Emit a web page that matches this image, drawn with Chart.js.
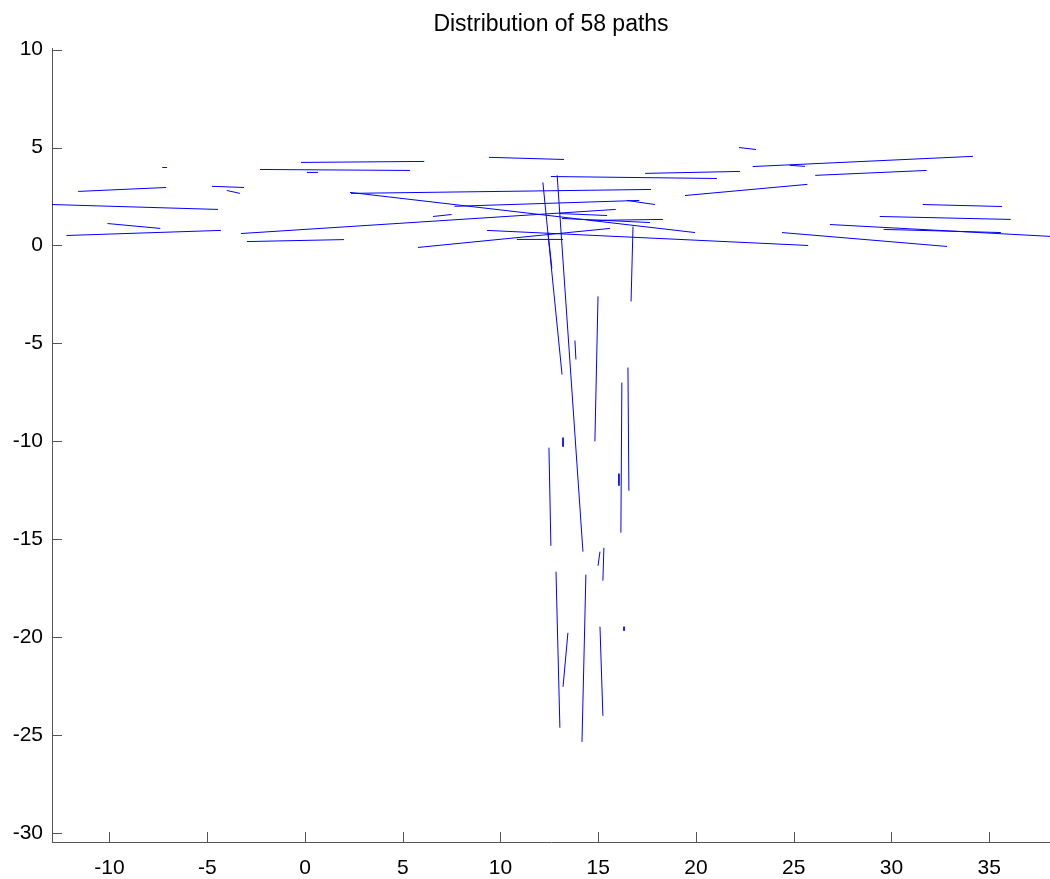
<!DOCTYPE html>
<html>
<head>
<meta charset="utf-8">
<script src="https://cdn.jsdelivr.net/npm/chart.js@4/dist/chart.umd.min.js"></script>
<style>
  html, body { margin: 0; padding: 0; background: #fff; }
  #wrap { width: 1050px; height: 879px; }
</style>
</head>
<body>
<div id="wrap"><canvas id="c"></canvas></div>
<script>
// each path: start (x0,y0) -> end (x1,y1)
const pathX0 = [-12.94, -11.6, -7.3, -10.1, -12.2, -4.76, -4.0, -2.3, -0.2, 0.1,
  -3.27, -2.97, 5.78, 6.55, 2.3, 2.35, 9.41, 12.58, 17.4, 22.2,
  22.9, 19.44, 26.1, 31.6, 29.4, 26.85, 24.4, 29.6, 9.31, 10.84,
  13.15, 14.58, 7.65, 16.47, 24.8, 13.04,
  12.17, 12.9, 12.43, 14.99, 13.81, 16.78, 16.52, 16.21, 16.06, 13.2,
  12.48, 12.84, 14.37, 13.45, 15.09, 15.29, 15.09, 16.32];
const pathY0 = [2.09, 2.76, 3.98, 1.12, 0.51, 3.02, 2.81, 3.88, 4.24, 3.73,
  0.61, 0.2, -0.1, 1.48, 2.71, 2.66, 4.5, 3.52, 3.68, 5.0,
  4.03, 2.55, 3.58, 2.09, 1.48, 1.07, 0.66, 0.82, 0.77, 0.31,
  1.38, 1.28, 2.0, 2.3, 4.09, 1.63,
  3.22, 3.58, 0.66, -2.6, -4.85, 0.97, -6.23, -7.0, -11.65, -9.81,
  -10.32, -16.65, -16.8, -19.77, -19.46, -15.43, -15.63, -19.46];
const pathX1 = [-4.45, -7.1, -7.06, -7.4, -4.3, -3.12, -3.33, 5.37, 6.1, 0.67,
  15.9, 2.0, 15.6, 7.5, 19.95, 17.7, 13.25, 21.07, 22.25, 23.07,
  34.17, 25.7, 31.8, 35.65, 36.1, 38.2, 32.84, 35.6, 25.74, 13.2,
  17.65, 18.31, 17.1, 17.9, 25.58, 15.45,
  13.15, 14.22, 12.63, 14.83, 13.86, 16.68, 16.57, 16.16, 16.06, 13.2,
  12.58, 13.04, 14.17, 13.2, 15.24, 15.24, 14.99, 16.32];
const pathY1 = [1.84, 2.96, 3.98, 0.87, 0.77, 2.96, 2.66, 3.83, 4.29, 3.73,
  1.84, 0.3, 0.87, 1.58, 0.66, 2.86, 4.39, 3.42, 3.78, 4.9,
  4.55, 3.12, 3.83, 1.99, 1.33, 0.46, -0.05, 0.66, 0.0, 0.31,
  1.17, 1.33, 2.3, 2.09, 4.04, 1.53,
  -6.59, -15.63, -1.17, -10.0, -5.82, -2.86, -12.52, -14.66, -12.26, -10.27,
  -15.33, -24.62, -25.34, -22.53, -24.01, -17.11, -16.35, -19.67];

const xTickStep = 5;
const yTickStep = 5;

const datasets = pathX0.map((x0, i) => ({
  data: [{ x: x0, y: pathY0[i] }, { x: pathX1[i], y: pathY1[i] }],
  showLine: true, borderColor: '#0000ff', borderWidth: 1,
  pointRadius: 0, pointHoverRadius: 0, fill: false
}));

// matlab style ticks pointing into the plot
const innerTicks = {
  id: 'innerTicks',
  afterDraw(chart) {
    const { ctx, chartArea: a, scales: { x, y } } = chart;
    ctx.save();
    ctx.strokeStyle = '#555';
    ctx.lineWidth = 1;
    ctx.beginPath();
    x.ticks.forEach(t => {
      const px = Math.round(x.getPixelForValue(t.value)) + 0.5;
      ctx.moveTo(px, a.bottom); ctx.lineTo(px, a.bottom - 10);
    });
    y.ticks.forEach(t => {
      const py = Math.round(y.getPixelForValue(t.value)) + 0.5;
      ctx.moveTo(a.left, py); ctx.lineTo(a.left + 10, py);
    });
    ctx.stroke();
    ctx.restore();
  }
};

const font = { family: "'Liberation Sans', Arial, sans-serif", size: 21 };

new Chart(document.getElementById('c'), {
  type: 'scatter',
  data: { datasets },
  plugins: [innerTicks],
  options: {
    responsive: true, maintainAspectRatio: false, animation: false,
    layout: { padding: 0 },
    plugins: {
      legend: { display: false },
      tooltip: { enabled: false },
      title: {
        display: true, text: 'Distribution of 58 paths', fullSize: false,
        color: '#000', font: { ...font, size: 23, weight: 'normal' },
        padding: { top: 11, bottom: 10 }
      }
    },
    scales: {
      x: {
        type: 'linear', min: -12.94, max: 38.11,
        grid: { display: false, drawTicks: false },
        border: { display: true, color: '#555', width: 1 },
        ticks: { stepSize: xTickStep, includeBounds: false, color: '#000', font, padding: 14, maxRotation: 0 },
        afterFit: s => { s.height = 37; }
      },
      y: {
        type: 'linear', min: -30.45, max: 10.05,
        grid: { display: false, drawTicks: false },
        border: { display: true, color: '#555', width: 1 },
        ticks: { stepSize: yTickStep, includeBounds: false, color: '#000', font, padding: 9 },
        afterFit: s => { s.width = 52; }
      }
    }
  }
});
</script>
</body>
</html>
